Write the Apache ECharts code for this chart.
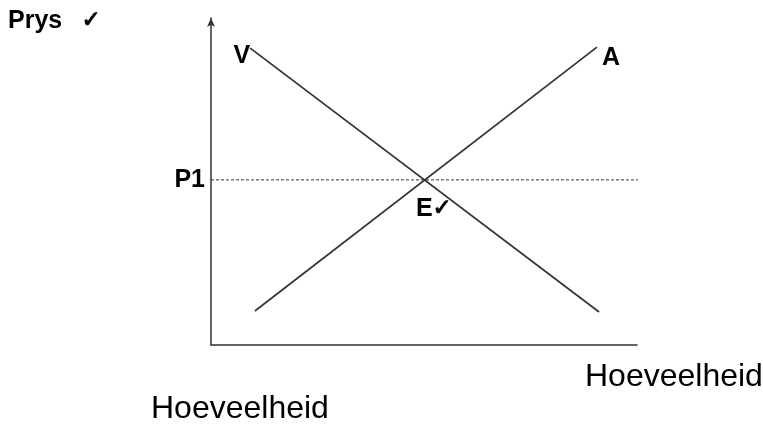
<!DOCTYPE html>
<html>
<head>
<meta charset="utf-8">
<script src="https://cdn.jsdelivr.net/npm/echarts@6/dist/echarts.min.js"></script>
<style>html,body{margin:0;padding:0;background:#fff}#c{width:763px;height:429px}</style>
</head>
<body>
<div id="c"></div>
<script>
// Data (quantity, price), axes 0..100
const supplyA = [[10.3, 10.4], [90.6, 91.1]];
const demandV = [[9.2, 90.8], [91.1, 10.1]];
const priceP1 = 50.5;
const equilibriumE = [50.2, 50.5];
const p1LineX = [0, 100.9];
const yAxisName = 'Prys';
const xAxisName = 'Hoeveelheid';

const chart = echarts.init(document.getElementById('c'));
const dark = '#333';
const boldFont = { fontFamily: 'Liberation Sans, Arial', fontWeight: 'bold', fontSize: 25, color: '#000' };
const checkStyle = { fontFamily: 'DejaVu Sans', fontSize: 23, color: '#000', textBorderColor: '#000', textBorderWidth: 0.9 };

chart.setOption({
  animation: false,
  grid: { left: 211, top: 18, right: 126, bottom: 84 },
  xAxis: {
    type: 'value', min: 0, max: 100,
    axisLine: { lineStyle: { color: dark, width: 1.5 } },
    axisTick: { show: false }, axisLabel: { show: false }, splitLine: { show: false }
  },
  yAxis: {
    type: 'value', min: 0, max: 100,
    axisLine: { show: true, symbol: ['none', 'arrow'], symbolSize: [6, 9], symbolOffset: [0, 0], lineStyle: { color: dark, width: 1.5 } },
    axisTick: { show: false }, splitLine: { show: false },
    axisLabel: {
      show: true, customValues: [priceP1], margin: 6,
      formatter: () => 'P1',
      ...boldFont
    }
  },
  series: [
    {
      type: 'line', data: p1LineX.map(x => [x, priceP1]), symbol: 'none', clip: false,
      lineStyle: { color: dark, width: 1, type: [3, 2] }, silent: true
    },
    {
      type: 'line', data: supplyA, symbol: 'none',
      lineStyle: { color: dark, width: 1.7 },
      endLabel: { show: true, formatter: 'A', offset: [-3, 11], ...boldFont },
      markPoint: {
        symbol: 'circle', symbolSize: 0, silent: true,
        data: [{ coord: equilibriumE, value: 'E' }],
        label: {
          show: true, position: 'bottom', distance: 17, offset: [9, 0],
          formatter: '{e|E}{c|✓}',
          rich: { e: { ...boldFont }, c: { ...checkStyle } }
        }
      }
    },
    {
      type: 'line', data: demandV, symbol: 'none',
      lineStyle: { color: dark, width: 1.7 },
      markPoint: {
        symbol: 'circle', symbolSize: 0, silent: true,
        data: [{ coord: demandV[0], value: 'V' }],
        label: { show: true, formatter: 'V', position: 'left', distance: 0, offset: [0, 8], ...boldFont }
      }
    }
  ],
  graphic: [
    { type: 'text', left: 8, top: 9, style: { text: yAxisName, font: 'bold 25px "Liberation Sans", Arial', fill: '#000' } },
    { type: 'text', left: 81, top: 9, style: { text: '✓', font: '23px "DejaVu Sans"', fill: '#000', stroke: '#000', lineWidth: 0.9 } },
    { type: 'text', left: 585, top: 361, style: { text: xAxisName, font: '32px "Liberation Sans", Arial', fill: '#000' } },
    { type: 'text', left: 151, top: 393, style: { text: xAxisName, font: '32px "Liberation Sans", Arial', fill: '#000' } }
  ]
});
</script>
</body>
</html>
